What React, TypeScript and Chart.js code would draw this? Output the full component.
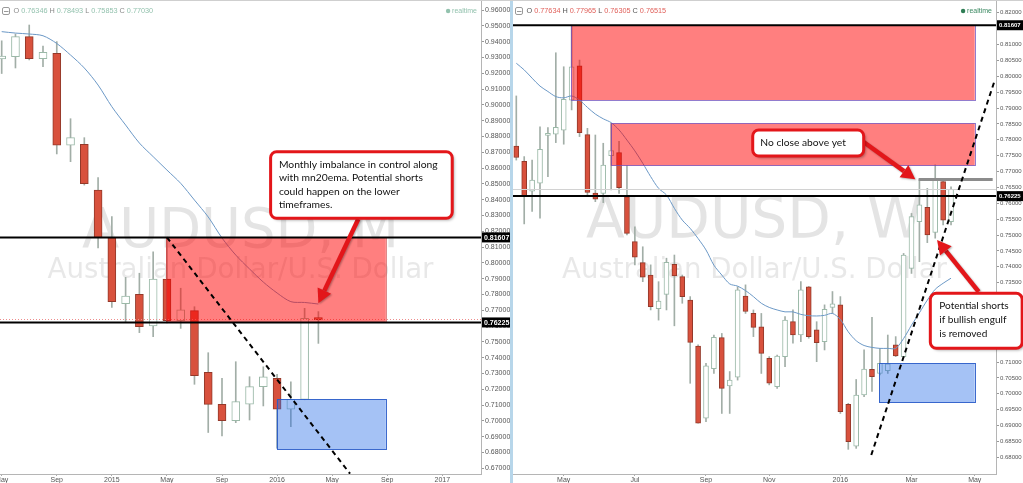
import React, { useEffect, useRef } from "react";
import { Chart, registerables } from "chart.js";
Chart.register(...registerables);

// ---------------- Monthly panel (left) ----------------
const monthlyCategories = [
  "2014-05", "2014-06", "2014-07", "2014-08", "2014-09", "2014-10", "2014-11", "2014-12",
  "2015-01", "2015-02", "2015-03", "2015-04", "2015-05", "2015-06", "2015-07", "2015-08",
  "2015-09", "2015-10", "2015-11", "2015-12", "2016-01", "2016-02", "2016-03", "2016-04",
];
const monthlyOpen = [0.929, 0.9304, 0.9431, 0.9292, 0.9326, 0.8744, 0.875, 0.8461, 0.8159, 0.7741, 0.7801, 0.76, 0.7897, 0.7634, 0.7697, 0.7307, 0.7104, 0.7001, 0.7106, 0.7216, 0.7269, 0.7073, 0.7136, 0.7649];
const monthlyHigh = [0.9405, 0.9448, 0.9505, 0.9372, 0.94, 0.8912, 0.8792, 0.8539, 0.8292, 0.7908, 0.7934, 0.807, 0.8161, 0.7839, 0.7722, 0.7431, 0.7269, 0.7374, 0.7279, 0.7342, 0.7294, 0.7247, 0.7712, 0.7691];
const monthlyLow = [0.9198, 0.9233, 0.9284, 0.9241, 0.8689, 0.864, 0.8492, 0.8094, 0.7718, 0.7627, 0.7558, 0.7532, 0.7619, 0.7585, 0.7231, 0.6926, 0.6904, 0.6988, 0.7005, 0.7094, 0.6827, 0.6963, 0.7133, 0.749];
const monthlyClose = [0.9309, 0.9431, 0.9292, 0.9332, 0.8744, 0.8792, 0.8501, 0.8159, 0.7754, 0.779, 0.7596, 0.7897, 0.7634, 0.7702, 0.7285, 0.7104, 0.7001, 0.7121, 0.7216, 0.7279, 0.7073, 0.7136, 0.7649, 0.764];
const monthlyEma = [0.9463, 0.9454, 0.9448, 0.9437, 0.9388, 0.9315, 0.9233, 0.9125, 0.8988, 0.8872, 0.8758, 0.8672, 0.8587, 0.8503, 0.8397, 0.829, 0.8157, 0.8049, 0.7961, 0.7878, 0.7809, 0.7754, 0.7749, 0.7739];
const monthlyTickPositions = [0, 4, 8, 12, 16, 20, 24, 28, 32];
const monthlyTickLabels = ["May", "Sep", "2015", "May", "Sep", "2016", "May", "Sep", "2017"];
const monthlyPriceTicks = [0.96, 0.95, 0.94, 0.93, 0.92, 0.91, 0.9, 0.89, 0.88, 0.87, 0.86, 0.85, 0.84, 0.83, 0.82, 0.81, 0.8, 0.79, 0.78, 0.77, 0.76, 0.75, 0.74, 0.73, 0.72, 0.71, 0.7, 0.69, 0.68, 0.67];
const monthlyPriceLabels = ["0.96000", "0.95000", "0.94000", "0.93000", "0.92000", "0.91000", "0.90000", "0.89000", "0.88000", "0.87000", "0.86000", "0.85000", "0.84000", "0.83000", "0.82000", "0.81000", "0.80000", "0.79000", "0.78000", "0.77000", "0.76000", "0.75000", "0.74000", "0.73000", "0.72000", "0.71000", "0.70000", "0.69000", "0.68000", "0.67000"];
const monthlyHeaderValues = ["0.76346", "0.78493", "0.75853", "0.77030"];
const monthlyTitle = "AUDUSD, M";

// ---------------- Weekly panel (right) ----------------
const weeklyCategories = [
  "2015-03-23", "2015-03-30", "2015-04-06", "2015-04-13", "2015-04-20", "2015-04-27", "2015-05-04", "2015-05-11",
  "2015-05-18", "2015-05-25", "2015-06-01", "2015-06-08", "2015-06-15", "2015-06-22", "2015-06-29", "2015-07-06",
  "2015-07-13", "2015-07-20", "2015-07-27", "2015-08-03", "2015-08-10", "2015-08-17", "2015-08-24", "2015-08-31",
  "2015-09-07", "2015-09-14", "2015-09-21", "2015-09-28", "2015-10-05", "2015-10-12", "2015-10-19", "2015-10-26",
  "2015-11-02", "2015-11-09", "2015-11-16", "2015-11-23", "2015-11-30", "2015-12-07", "2015-12-14", "2015-12-21",
  "2015-12-28", "2016-01-04", "2016-01-11", "2016-01-18", "2016-01-25", "2016-02-01", "2016-02-08", "2016-02-15",
  "2016-02-22", "2016-02-29", "2016-03-07", "2016-03-14", "2016-03-21", "2016-03-28", "2016-04-04", "2016-04-11",
];
const weeklyOpen = [0.778, 0.7732, 0.7638, 0.7663, 0.7814, 0.7818, 0.783, 0.7925, 0.8033, 0.7816, 0.7632, 0.7631, 0.775, 0.776, 0.7621, 0.7479, 0.7413, 0.7374, 0.7268, 0.7313, 0.7408, 0.7369, 0.7295, 0.715, 0.6923, 0.7079, 0.7177, 0.7025, 0.7052, 0.7308, 0.7253, 0.7211, 0.7112, 0.7022, 0.7117, 0.7227, 0.7185, 0.7337, 0.7201, 0.7164, 0.7272, 0.728, 0.6967, 0.6835, 0.6996, 0.7077, 0.7064, 0.7073, 0.7154, 0.7117, 0.7395, 0.7542, 0.7587, 0.7508, 0.7668, 0.7542];
const weeklyHigh = [0.7938, 0.7747, 0.7736, 0.7841, 0.7838, 0.8074, 0.803, 0.8161, 0.8051, 0.7836, 0.7815, 0.7789, 0.7852, 0.7795, 0.7719, 0.7526, 0.7463, 0.7406, 0.7353, 0.7427, 0.7437, 0.7374, 0.7306, 0.7154, 0.7096, 0.7185, 0.719, 0.707, 0.7337, 0.7343, 0.7264, 0.7253, 0.7117, 0.7122, 0.7243, 0.7264, 0.7353, 0.7338, 0.7227, 0.728, 0.7322, 0.7306, 0.697, 0.7045, 0.7138, 0.7241, 0.7143, 0.7185, 0.718, 0.7442, 0.7568, 0.7675, 0.7647, 0.7721, 0.7675, 0.7652];
const weeklyLow = [0.7736, 0.7535, 0.7574, 0.7553, 0.7684, 0.7791, 0.7786, 0.7894, 0.781, 0.7626, 0.7605, 0.7602, 0.7642, 0.7631, 0.75, 0.7406, 0.7353, 0.7264, 0.7232, 0.7264, 0.7214, 0.7285, 0.7033, 0.6907, 0.6912, 0.7064, 0.6938, 0.6938, 0.7043, 0.7253, 0.718, 0.7064, 0.7028, 0.7017, 0.7085, 0.7159, 0.7164, 0.7175, 0.7101, 0.7138, 0.7253, 0.6938, 0.6825, 0.6828, 0.6991, 0.7007, 0.7059, 0.7064, 0.7117, 0.7115, 0.7379, 0.7416, 0.7476, 0.749, 0.7532, 0.7532];
const weeklyClose = [0.7744, 0.7624, 0.7673, 0.777, 0.782, 0.7839, 0.7927, 0.803, 0.7822, 0.7634, 0.7613, 0.772, 0.7766, 0.7649, 0.7505, 0.743, 0.7367, 0.7274, 0.7292, 0.7414, 0.7371, 0.7306, 0.7162, 0.6907, 0.7088, 0.7178, 0.7017, 0.7043, 0.7327, 0.7259, 0.7209, 0.7127, 0.7033, 0.7119, 0.7232, 0.7185, 0.7327, 0.718, 0.7161, 0.7266, 0.7283, 0.6944, 0.6849, 0.6996, 0.7078, 0.7054, 0.7096, 0.7094, 0.7119, 0.7437, 0.7558, 0.7595, 0.75, 0.7675, 0.7547, 0.7644];
const weeklyEma = [0.8041, 0.802, 0.7994, 0.7969, 0.7952, 0.7936, 0.7932, 0.7938, 0.7925, 0.7902, 0.7881, 0.7866, 0.7854, 0.7831, 0.7799, 0.7765, 0.7726, 0.7684, 0.7647, 0.7626, 0.7584, 0.7547, 0.7521, 0.7489, 0.7453, 0.7405, 0.7374, 0.7346, 0.7339, 0.7325, 0.7306, 0.7285, 0.7272, 0.7264, 0.7258, 0.7258, 0.725, 0.7246, 0.7245, 0.7247, 0.7253, 0.7234, 0.7195, 0.7167, 0.7152, 0.7146, 0.7143, 0.7143, 0.7143, 0.7174, 0.7216, 0.7255, 0.7295, 0.7329, 0.7348, 0.7364];
const weeklyTickPositions = [6, 15, 24, 32, 41, 50, 58];
const weeklyTickLabels = ["May", "Jul", "Sep", "Nov", "2016", "Mar", "May"];
const weeklyPriceTicks = [0.82, 0.815, 0.81, 0.805, 0.8, 0.795, 0.79, 0.785, 0.78, 0.775, 0.77, 0.765, 0.76, 0.755, 0.75, 0.745, 0.74, 0.735, 0.73, 0.725, 0.72, 0.715, 0.71, 0.705, 0.7, 0.695, 0.69, 0.685, 0.68];
const weeklyPriceLabels = ["0.82000", "0.81500", "0.81000", "0.80500", "0.80000", "0.79500", "0.79000", "0.78500", "0.78000", "0.77500", "0.77000", "0.76500", "0.76000", "0.75500", "0.75000", "0.74500", "0.74000", "0.73500", "0.73000", "0.72500", "0.72000", "0.71500", "0.71000", "0.70500", "0.70000", "0.69500", "0.69000", "0.68500", "0.68000"];
const weeklyHeaderValues = ["0.77634", "0.77965", "0.76305", "0.76515"];
const weeklyTitle = "AUDUSD, W";

const subtitle = "Australian Dollar/U.S. Dollar";
const keyLevels = [0.81607, 0.76225];
const keyLevelLabels = ["0.81607", "0.76225"];
const lastPrice = 0.7644;

// ---------------- styles ----------------
const RED_FILL = "#d8513d";
const RED_BORDER = "#93392a";
const WHITE_FILL = "#ffffff";
const WHITE_BORDER = "#9bb9a8";
const WICK = "#a2aea7";
const EMA_COLOR = "#6b98c6";
const CALLOUT_RED = "#e3161a";
const TICK_FONT = "'Liberation Sans', Arial, sans-serif";

type Zone = { x1: number; x2: number; y1: number; y2: number; fill: string; stroke: string };
type Callout = {
  x1: number; x2: number; y1: number; y2: number;
  lines: string[]; fitWidth: number; padX: number; firstLine: number; lineGap: number;
  from: [number, number]; to: [number, number];
};
type PanelSpec = {
  open: number[]; high: number[]; low: number[]; close: number[]; ema: number[];
  tickPos: number[]; tickLabels: string[]; priceTicks: number[]; priceLabels: string[];
  xMin: number; xMax: number; yMin: number; yMax: number;
  axisWidth: number; axisFont: number; bodyWidth: number;
  zones: Zone[];
  dashed: [number, number, number, number];
  grayBar?: [number, number, number];
  priceLineStyle: "dotted" | "gray";
  callouts: Callout[];
  title: string; titleWidth: number; titleBase: number; subWidth: number; subBase: number;
  header: string[]; headerColor: string; letterColor: string; realtimeColor: string; dotColor: string;
};

const RED_ZONE = "rgba(255,0,0,0.5)";
const RED_ZONE_STROKE = "rgba(110,80,190,0.75)";
const BLUE_ZONE = "rgba(40,110,230,0.42)";
const BLUE_ZONE_STROKE = "rgba(40,90,200,0.9)";

const leftSpec: PanelSpec = {
  open: monthlyOpen, high: monthlyHigh, low: monthlyLow, close: monthlyClose, ema: monthlyEma,
  tickPos: monthlyTickPositions, tickLabels: monthlyTickLabels,
  priceTicks: monthlyPriceTicks, priceLabels: monthlyPriceLabels,
  xMin: -0.123, xMax: 34.81, yMin: 0.66633, yMax: 0.96633,
  axisWidth: 30, axisFont: 7, bodyWidth: 8,
  zones: [
    { x1: 11.95, x2: 27.9, y1: 0.81607, y2: 0.76225, fill: RED_ZONE, stroke: "rgba(200,60,60,0.6)" },
    { x1: 19.97, x2: 27.9, y1: 0.7136, y2: 0.682, fill: BLUE_ZONE, stroke: BLUE_ZONE_STROKE },
  ],
  dashed: [12, 0.81607, 25.3, 0.6665],
  priceLineStyle: "dotted",
  callouts: [
    {
      x1: 19.53, x2: 32.72, y1: 0.8703, y2: 0.8282,
      lines: ["Monthly imbalance in control along", "with mn20ema. Potential shorts", "could happen on the lower", "timeframes."],
      fitWidth: 159, padX: 8.3, firstLine: 12.6, lineGap: 13.6,
      from: [25.9, 0.8277], to: [23.0, 0.7744],
    },
  ],
  title: monthlyTitle, titleWidth: 317, titleBase: 246.7, subWidth: 386, subBase: 278.3,
  header: monthlyHeaderValues, headerColor: "#93c2ae", letterColor: "#8a8a8a", realtimeColor: "#93c2ae", dotColor: "#93c2ae",
};

const rightSpec: PanelSpec = {
  open: weeklyOpen, high: weeklyHigh, low: weeklyLow, close: weeklyClose, ema: weeklyEma,
  tickPos: weeklyTickPositions, tickLabels: weeklyTickLabels,
  priceTicks: weeklyPriceTicks, priceLabels: weeklyPriceLabels,
  xMin: -0.4175, xMax: 60.69, yMin: 0.67473, yMax: 0.82402,
  axisWidth: 27, axisFont: 6, bodyWidth: 5,
  zones: [
    { x1: 6.95, x2: 58.0, y1: 0.81607, y2: 0.79252, fill: RED_ZONE, stroke: RED_ZONE_STROKE },
    { x1: 11.94, x2: 58.0, y1: 0.78518, y2: 0.77183, fill: RED_ZONE, stroke: RED_ZONE_STROKE },
    { x1: 45.89, x2: 58.0, y1: 0.70959, y2: 0.69718, fill: BLUE_ZONE, stroke: BLUE_ZONE_STROKE },
  ],
  dashed: [44.91, 0.68071, 60.47, 0.79828],
  grayBar: [50.9, 60.27, 0.7675],
  priceLineStyle: "gray",
  callouts: [
    {
      x1: 29.91, x2: 43.95, y1: 0.78307, y2: 0.77488,
      lines: ["No close above yet"], fitWidth: 85.7, padX: 7.6, firstLine: 13, lineGap: 13.6,
      from: [43.9, 0.77939], to: [50.48, 0.76754],
    },
    {
      x1: 52.38, x2: 64.0, y1: 0.73164, y2: 0.71432,
      lines: ["Potential shorts", "if bullish engulf", "is removed"], fitWidth: 69.4, padX: 9, firstLine: 12.7, lineGap: 13.7,
      from: [58.5, 0.73214], to: [53.23, 0.74843],
    },
  ],
  title: weeklyTitle, titleWidth: 337, titleBase: 238.3, subWidth: 385, subBase: 278,
  header: weeklyHeaderValues, headerColor: "#e0605a", letterColor: "#555555", realtimeColor: "#3d8a63", dotColor: "#2f7d55",
};

function roundRectPath(ctx: CanvasRenderingContext2D, x: number, y: number, w: number, h: number, r: number) {
  ctx.beginPath();
  ctx.moveTo(x + r, y);
  ctx.arcTo(x + w, y, x + w, y + h, r);
  ctx.arcTo(x + w, y + h, x, y + h, r);
  ctx.arcTo(x, y + h, x, y, r);
  ctx.arcTo(x, y, x + w, y, r);
  ctx.closePath();
}

function fitSize(ctx: CanvasRenderingContext2D, text: string, family: string, weight: string, target: number) {
  ctx.font = `${weight} 20px ${family}`;
  const w = ctx.measureText(text).width;
  return (20 * target) / w;
}

function drawArrow(ctx: CanvasRenderingContext2D, x1: number, y1: number, x2: number, y2: number) {
  const ang = Math.atan2(y2 - y1, x2 - x1);
  const head = 14;
  const hw = 7.5;
  const bx = x2 - head * Math.cos(ang);
  const by = y2 - head * Math.sin(ang);
  ctx.save();
  ctx.shadowColor = "rgba(0,0,0,0.3)";
  ctx.shadowBlur = 2;
  ctx.shadowOffsetX = 1;
  ctx.shadowOffsetY = 1;
  ctx.strokeStyle = CALLOUT_RED;
  ctx.fillStyle = CALLOUT_RED;
  ctx.lineWidth = 4.5;
  ctx.beginPath();
  ctx.moveTo(x1, y1);
  ctx.lineTo(bx, by);
  ctx.stroke();
  ctx.beginPath();
  ctx.moveTo(x2, y2);
  ctx.lineTo(bx + hw * Math.sin(ang), by - hw * Math.cos(ang));
  ctx.lineTo(bx - hw * Math.sin(ang), by + hw * Math.cos(ang));
  ctx.closePath();
  ctx.fill();
  ctx.restore();
}

function makeOverlay(spec: PanelSpec) {
  return {
    id: "overlay",
    beforeDatasetsDraw(chart: any) {
      const { ctx, chartArea: ca } = chart;
      ctx.save();
      ctx.beginPath();
      ctx.rect(ca.left, ca.top, ca.width, ca.height);
      ctx.clip();
      const fam = "'DejaVu Sans', sans-serif";
      const cx = (ca.left + ca.right) / 2;
      ctx.textAlign = "center";
      ctx.textBaseline = "alphabetic";
      ctx.fillStyle = "rgba(120,120,120,0.2)";
      let s = fitSize(ctx, spec.title, fam, "normal", spec.titleWidth);
      ctx.font = `normal ${s}px ${fam}`;
      ctx.fillText(spec.title, cx, ca.top + spec.titleBase);
      s = fitSize(ctx, subtitle, fam, "normal", spec.subWidth);
      ctx.font = `normal ${s}px ${fam}`;
      ctx.fillStyle = "rgba(120,120,120,0.17)";
      ctx.fillText(subtitle, cx, ca.top + spec.subBase);
      ctx.restore();
    },
    afterDatasetsDraw(chart: any) {
      const { ctx, chartArea: ca, scales } = chart;
      const X = (v: number) => scales.x.getPixelForValue(v);
      const Y = (v: number) => scales.y.getPixelForValue(v);
      ctx.save();
      ctx.beginPath();
      ctx.rect(ca.left, ca.top, ca.width, ca.height);
      ctx.clip();
      const py = Math.round(Y(lastPrice)) + 0.5;
      ctx.lineWidth = 1;
      if (spec.priceLineStyle === "dotted") {
        ctx.strokeStyle = "#ee8c8c";
        ctx.setLineDash([1, 2]);
      } else {
        ctx.strokeStyle = "#d2d2d2";
      }
      ctx.beginPath();
      ctx.moveTo(ca.left, py);
      ctx.lineTo(ca.right, py);
      ctx.stroke();
      ctx.setLineDash([]);
      for (const z of spec.zones) {
        const x1 = X(z.x1), x2 = X(z.x2), y1 = Y(z.y1), y2 = Y(z.y2);
        ctx.fillStyle = z.fill;
        ctx.fillRect(x1, y1, x2 - x1, y2 - y1);
        ctx.strokeStyle = z.stroke;
        ctx.lineWidth = 1;
        ctx.strokeRect(Math.round(x1) + 0.5, Math.round(y1) + 0.5, Math.round(x2 - x1), Math.round(y2 - y1));
      }
      ctx.strokeStyle = "#000";
      ctx.lineWidth = 2;
      for (const lv of keyLevels) {
        const y = Y(lv);
        ctx.beginPath();
        ctx.moveTo(ca.left, y);
        ctx.lineTo(ca.right, y);
        ctx.stroke();
      }
      if (spec.grayBar) {
        const [a, b, v] = spec.grayBar;
        ctx.strokeStyle = "#8c8c8c";
        ctx.lineWidth = 3;
        ctx.beginPath();
        ctx.moveTo(X(a), Y(v));
        ctx.lineTo(X(b), Y(v));
        ctx.stroke();
      }
      const [dx1, dy1, dx2, dy2] = spec.dashed;
      ctx.strokeStyle = "#000";
      ctx.lineWidth = 2;
      ctx.setLineDash([5, 4]);
      ctx.beginPath();
      ctx.moveTo(X(dx1), Y(dy1));
      ctx.lineTo(X(dx2), Y(dy2));
      ctx.stroke();
      ctx.setLineDash([]);
      ctx.restore();
    },
    afterDraw(chart: any) {
      const { ctx, chartArea: ca, scales, width } = chart;
      const X = (v: number) => scales.x.getPixelForValue(v);
      const Y = (v: number) => scales.y.getPixelForValue(v);
      ctx.save();
      keyLevels.forEach((lv, i) => {
        const y = Y(lv);
        ctx.fillStyle = "#000";
        ctx.fillRect(ca.right + 1, y - 5, width - ca.right - 1, 10);
        ctx.fillStyle = "#fff";
        ctx.font = `bold ${spec.axisFont}px ${TICK_FONT}`;
        ctx.textAlign = "left";
        ctx.textBaseline = "middle";
        ctx.fillText(keyLevelLabels[i], ca.right + 3, y + 0.5);
      });
      const fam = "Lato, 'Open Sans', sans-serif";
      for (const c of spec.callouts) {
        drawArrow(ctx, X(c.from[0]), Y(c.from[1]), X(c.to[0]), Y(c.to[1]));
        const x1 = X(c.x1), x2 = X(c.x2), y1 = Y(c.y1), y2 = Y(c.y2);
        ctx.save();
        ctx.shadowColor = "rgba(0,0,0,0.35)";
        ctx.shadowBlur = 3;
        ctx.shadowOffsetX = 2;
        ctx.shadowOffsetY = 2;
        roundRectPath(ctx, x1, y1, x2 - x1, y2 - y1, 6);
        ctx.fillStyle = "#fff";
        ctx.fill();
        ctx.restore();
        roundRectPath(ctx, x1, y1, x2 - x1, y2 - y1, 6);
        ctx.strokeStyle = CALLOUT_RED;
        ctx.lineWidth = 3;
        ctx.stroke();
        const s = fitSize(ctx, c.lines[0], fam, "normal", c.fitWidth);
        ctx.font = `normal ${s}px ${fam}`;
        ctx.fillStyle = "#111";
        ctx.textAlign = "left";
        ctx.textBaseline = "middle";
        c.lines.forEach((ln, i) => ctx.fillText(ln, x1 + c.padX, y1 + c.firstLine + i * c.lineGap));
      }
      const hf = TICK_FONT;
      const parts: [string, string][] = [
        ["O ", spec.letterColor], [spec.header[0], spec.headerColor],
        [" H ", spec.letterColor], [spec.header[1], spec.headerColor],
        [" L ", spec.letterColor], [spec.header[2], spec.headerColor],
        [" C ", spec.letterColor], [spec.header[3], spec.headerColor],
      ];
      const full = parts.map((p) => p[0]).join("");
      const hs = fitSize(ctx, full, hf, "normal", 140);
      ctx.font = `normal ${hs}px ${hf}`;
      ctx.textAlign = "left";
      ctx.textBaseline = "middle";
      let hx = ca.left + 13.5;
      const hy = ca.top + 11;
      for (const [t, col] of parts) {
        ctx.fillStyle = col;
        ctx.fillText(t, hx, hy);
        hx += ctx.measureText(t).width;
      }
      ctx.strokeStyle = "#9a9a9a";
      ctx.lineWidth = 1;
      roundRectPath(ctx, ca.left + 2.5, hy - 3.5, 7, 7, 1.5);
      ctx.stroke();
      ctx.beginPath();
      ctx.moveTo(ca.left + 4, hy + 0.5);
      ctx.lineTo(ca.left + 8.5, hy + 0.5);
      ctx.stroke();
      ctx.font = `normal 7px ${hf}`;
      ctx.textAlign = "right";
      ctx.fillStyle = spec.realtimeColor;
      ctx.fillText("realtime", ca.right - 4, hy);
      const tw = ctx.measureText("realtime").width;
      ctx.fillStyle = spec.dotColor;
      ctx.beginPath();
      ctx.arc(ca.right - 4 - tw - 4, hy, 2.2, 0, Math.PI * 2);
      ctx.fill();
      ctx.restore();
    },
  };
}

function buildConfig(spec: PanelSpec): any {
  const n = spec.open.length;
  const idx = Array.from({ length: n }, (_, i) => i);
  const bull = idx.map((i) => spec.close[i] >= spec.open[i]);
  return {
    type: "bar",
    data: {
      datasets: [
        {
          type: "line",
          label: "ema",
          data: idx.map((i) => ({ x: i, y: spec.ema[i] })),
          borderColor: EMA_COLOR,
          borderWidth: 1,
          pointRadius: 0,
          tension: 0.3,
          order: 0,
        },
        {
          type: "bar",
          label: "body",
          data: idx.map((i) => ({ x: i, y: [spec.open[i], spec.close[i]] })),
          backgroundColor: bull.map((b) => (b ? WHITE_FILL : RED_FILL)),
          borderColor: bull.map((b) => (b ? WHITE_BORDER : RED_BORDER)),
          borderWidth: 1,
          borderSkipped: false,
          barThickness: spec.bodyWidth,
          minBarLength: 2,
          grouped: false,
          order: 1,
        },
        {
          type: "bar",
          label: "wick",
          data: idx.map((i) => ({ x: i, y: [spec.low[i], spec.high[i]] })),
          backgroundColor: WICK,
          borderWidth: 0,
          barThickness: 1,
          grouped: false,
          order: 2,
        },
      ],
    },
    options: {
      responsive: true,
      maintainAspectRatio: false,
      animation: false,
      events: [],
      layout: { padding: 0 },
      plugins: { legend: { display: false }, tooltip: { enabled: false } },
      scales: {
        x: {
          type: "linear",
          min: spec.xMin,
          max: spec.xMax,
          offset: false,
          afterBuildTicks: (s: any) => {
            s.ticks = spec.tickPos.map((v) => ({ value: v }));
          },
          afterFit: (s: any) => {
            s.height = 9;
            s.paddingLeft = 0;
            s.paddingRight = 0;
            s.paddingTop = 0;
            s.paddingBottom = 0;
          },
          ticks: {
            autoSkip: false,
            maxRotation: 0,
            padding: 0,
            color: "#555",
            font: { size: 7, family: TICK_FONT },
            callback: (_v: any, i: number) => spec.tickLabels[i],
          },
          grid: { drawOnChartArea: false, drawTicks: true, tickLength: 2, color: "#aaa", offset: false },
          border: { display: true, color: "#b5b5b5" },
        },
        y: {
          type: "linear",
          position: "right",
          min: spec.yMin,
          max: spec.yMax,
          afterBuildTicks: (s: any) => {
            s.ticks = spec.priceTicks.map((v) => ({ value: v }));
          },
          afterFit: (s: any) => {
            s.width = spec.axisWidth;
            s.paddingLeft = 0;
            s.paddingRight = 0;
            s.paddingTop = 0;
            s.paddingBottom = 0;
          },
          ticks: {
            autoSkip: false,
            padding: 1,
            color: "#555",
            font: { size: spec.axisFont, family: TICK_FONT },
            callback: (_v: any, i: number) => spec.priceLabels[i],
          },
          grid: { drawOnChartArea: false, drawTicks: true, tickLength: 3, color: "#999" },
          border: { display: true, color: "#b5b5b5" },
        },
      },
    },
    plugins: [makeOverlay(spec)],
  };
}

function Panel({ spec, left, width }: { spec: PanelSpec; left: number; width: number }) {
  const ref = useRef<HTMLCanvasElement>(null);
  useEffect(() => {
    const chart = new Chart(ref.current as HTMLCanvasElement, buildConfig(spec));
    return () => chart.destroy();
  }, [spec]);
  return (
    <div style={{ position: "absolute", left, top: 0, width, height: 483 }}>
      <canvas ref={ref} />
    </div>
  );
}

export default function App() {
  return (
    <div
      style={{
        position: "fixed",
        left: 0,
        top: 0,
        width: 1023,
        height: 483,
        overflow: "hidden",
        background: "#fff",
      }}
    >
      <Panel spec={leftSpec} left={0} width={511} />
      <Panel spec={rightSpec} left={513} width={510} />
      <div style={{ position: "absolute", left: 510, top: 0, width: 3, height: 483, background: "#b7d6ea" }} />
      <div style={{ position: "absolute", left: 0, top: 0, width: 1023, height: 1, background: "#cfcfcf" }} />
    </div>
  );
}
